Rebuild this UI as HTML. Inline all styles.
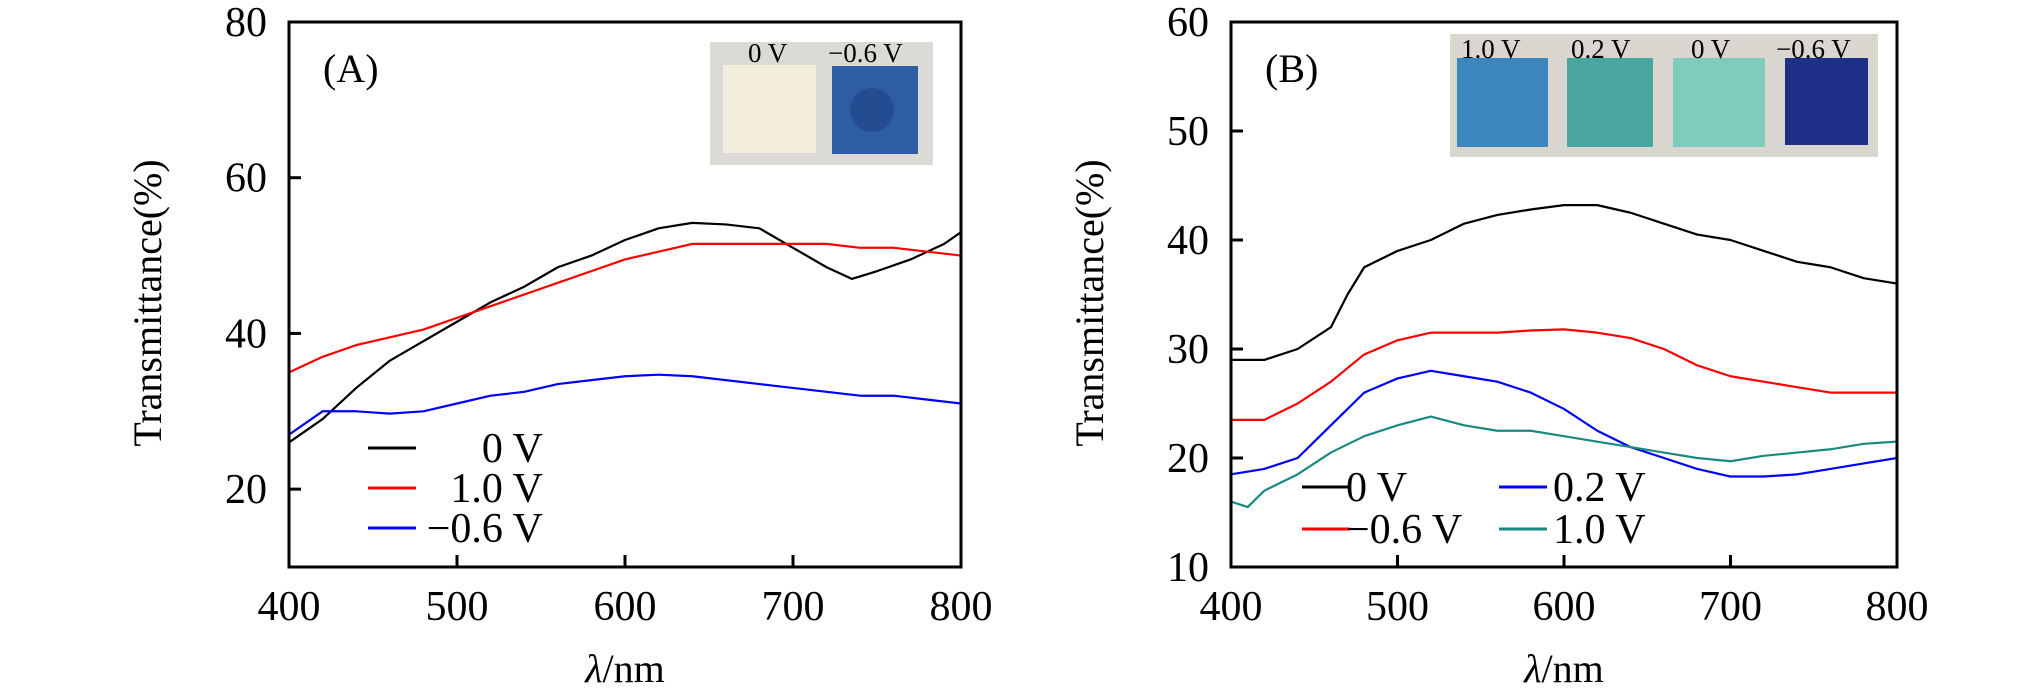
<!DOCTYPE html>
<html><head><meta charset="utf-8"><style>
html,body{margin:0;padding:0;background:#fff;}
svg{display:block;font-family:"Liberation Serif",serif;}
</style></head><body>
<svg id="c" width="2019" height="690" viewBox="0 0 2019 690" xmlns="http://www.w3.org/2000/svg">
  <g>
    <rect x="710" y="42" width="223" height="123" fill="#dcdad4"/>
    <rect x="723" y="65" width="93" height="88" fill="#f3efdc"/>
    <rect x="832" y="66" width="86" height="88" fill="#2f5da3"/>
    <circle cx="872" cy="110" r="22" fill="#244c90"/>
    <text x="748" y="62" font-size="27">0 V</text>
    <text x="828" y="62" font-size="27">−0.6 V</text>
  </g>
  <g>
    <rect x="1450" y="34" width="428" height="123" fill="#d8d6cf"/>
    <rect x="1457" y="58" width="91" height="89" fill="#3a86bd"/>
    <rect x="1567" y="58" width="86" height="89" fill="#4aa7a0"/>
    <rect x="1673" y="58" width="92" height="89" fill="#7fcbbc"/>
    <rect x="1785" y="58" width="83" height="87" fill="#1d2f86"/>
    <text x="1461" y="58" font-size="27">1.0 V</text>
    <text x="1571" y="58" font-size="27">0.2 V</text>
    <text x="1691" y="58" font-size="27">0 V</text>
    <text x="1776" y="58" font-size="27">−0.6 V</text>
  </g>
</svg>
<script>
const xTicks=[400,500,600,700,800];
const aYTicks=[20,40,60,80];
const bYTicks=[10,20,30,40,50,60];
const aX=[400,420,440,460,480,500,520,540,560,580,600,620,640,660,680,700,720,735,750,770,790,800];
const a0V=[26,29,33,36.5,39,41.5,44,46,48.5,50,52,53.5,54.2,54,53.5,51,48.5,47,48,49.5,51.5,53];
const aX2=[400,420,440,460,480,500,520,540,560,580,600,620,640,660,680,700,720,740,760,780,800];
const a1V=[35,37,38.5,39.5,40.5,42,43.5,45,46.5,48,49.5,50.5,51.5,51.5,51.5,51.5,51.5,51,51,50.5,50];
const aN06V=[27,30,30,29.7,30,31,32,32.5,33.5,34,34.5,34.7,34.5,34,33.5,33,32.5,32,32,31.5,31];
const bXk=[400,420,440,460,470,480,500,520,540,560,580,600,620,640,660,680,700,720,740,760,780,800];
const b0V=[29,29,30,32,35,37.5,39,40,41.5,42.3,42.8,43.2,43.2,42.5,41.5,40.5,40,39,38,37.5,36.5,36];
const bX=[400,420,440,460,480,500,520,540,560,580,600,620,640,660,680,700,720,740,760,780,800];
const bN06V=[23.5,23.5,25,27,29.5,30.8,31.5,31.5,31.5,31.7,31.8,31.5,31,30,28.5,27.5,27,26.5,26,26,26];
const b02V=[18.5,19,20,23,26,27.3,28,27.5,27,26,24.5,22.5,21,20,19,18.3,18.3,18.5,19,19.5,20];
const bXt=[400,410,420,440,460,480,500,520,540,560,580,600,620,640,660,680,700,720,740,760,780,800];
const b1V=[16,15.5,17,18.5,20.5,22,23,23.8,23,22.5,22.5,22,21.5,21,20.5,20,19.7,20.2,20.5,20.8,21.3,21.5];

const svg=document.getElementById('c');
const NS='http://www.w3.org/2000/svg';
function mk(tag,attrs,parent){const e=document.createElementNS(NS,tag);for(const k in attrs)e.setAttribute(k,attrs[k]);(parent||svg).appendChild(e);return e;}

function panel(p){
  const sx=v=>p.x0+(v-400)/400*(p.x1-p.x0);
  const sy=v=>p.yb+(v-p.ymin)/(p.ymax-p.ymin)*(p.yt-p.yb);
  const g=mk('g',{});
  
  
  p.series.forEach(s=>{
    const pl=mk('polyline',{points:s.x.map((v,i)=>sx(v)+','+sy(s.y[i])).join(' '),fill:'none',stroke:s.c,'stroke-width':2.2,'stroke-linejoin':'round'},g);
    
    
  });
  const fr=mk('rect',{x:p.x0,y:p.yt,width:p.x1-p.x0,height:p.yb-p.yt,fill:'none',stroke:'#000','stroke-width':3},g);
  
  
  xTicks.forEach(t=>{
    mk('line',{x1:sx(t),x2:sx(t),y1:p.yb,y2:p.yb-12,stroke:'#000','stroke-width':3},g);
    const tx=mk('text',{x:sx(t),y:620,'font-size':42,'text-anchor':'middle'},g);
    tx.textContent=t;
    
    
  });
  p.yTicks.forEach(t=>{
    mk('line',{x1:p.x0,x2:p.x0+12,y1:sy(t),y2:sy(t),stroke:'#000','stroke-width':3},g);
    const tx=mk('text',{x:p.x0-22,y:sy(t)+14,'font-size':42,'text-anchor':'end'},g);
    tx.textContent=t;
    
    
  });
  const xt=mk('text',{x:(p.x0+p.x1)/2,y:682,'font-size':40,'text-anchor':'middle'},g);
  xt.innerHTML='<tspan font-style="italic">λ</tspan>/nm';
  
  
  const yt=mk('text',{x:0,y:0,'font-size':40,'text-anchor':'middle',transform:'translate('+(p.x0-128)+',303) rotate(-90)'},g);
  yt.textContent='Transmittance(%)';
  
  
  const lb=mk('text',{x:p.x0+34,y:82,'font-size':40},g);
  lb.textContent=p.label;
  
  
  p.legend.forEach(L=>{
    const lg=mk('g',{},g);
    
    
    mk('line',{x1:L.lx,x2:L.lx+48,y1:L.y,y2:L.y,stroke:L.c,'stroke-width':3},lg);
    const t=mk('text',{x:L.tx,y:L.y+14,'font-size':42,'text-anchor':L.anchor},lg);
    t.textContent=L.t;
  });
}
panel({id:'panel-a',label:'(A)',x0:289,x1:961,yt:22,yb:567,ymin:10,ymax:80,yTicks:aYTicks,
  series:[{n:'0v',x:aX,y:a0V,c:'#000'},{n:'1v',x:aX2,y:a1V,c:'#f00'},{n:'neg06v',x:aX2,y:aN06V,c:'#00f'}],
  legend:[{lx:368,y:448,c:'#000',t:'0 V',tx:543,anchor:'end'},{lx:368,y:488,c:'#f00',t:'1.0 V',tx:543,anchor:'end'},{lx:368,y:528,c:'#00f',t:'−0.6 V',tx:543,anchor:'end'}]});
panel({id:'panel-b',label:'(B)',x0:1231,x1:1897,yt:22,yb:567,ymin:10,ymax:60,yTicks:bYTicks,
  series:[{n:'0v',x:bXk,y:b0V,c:'#000'},{n:'neg06v',x:bX,y:bN06V,c:'#f00'},{n:'02v',x:bX,y:b02V,c:'#00f'},{n:'1v',x:bXt,y:b1V,c:'#1a8a80'}],
  legend:[{lx:1302,y:487,c:'#000',t:'0 V',tx:1346,anchor:'start'},{lx:1302,y:529,c:'#f00',t:'−0.6 V',tx:1346,anchor:'start'},{lx:1499,y:487,c:'#00f',t:'0.2 V',tx:1553,anchor:'start'},{lx:1499,y:529,c:'#1a8a80',t:'1.0 V',tx:1553,anchor:'start'}]});
</script>
</body></html>
